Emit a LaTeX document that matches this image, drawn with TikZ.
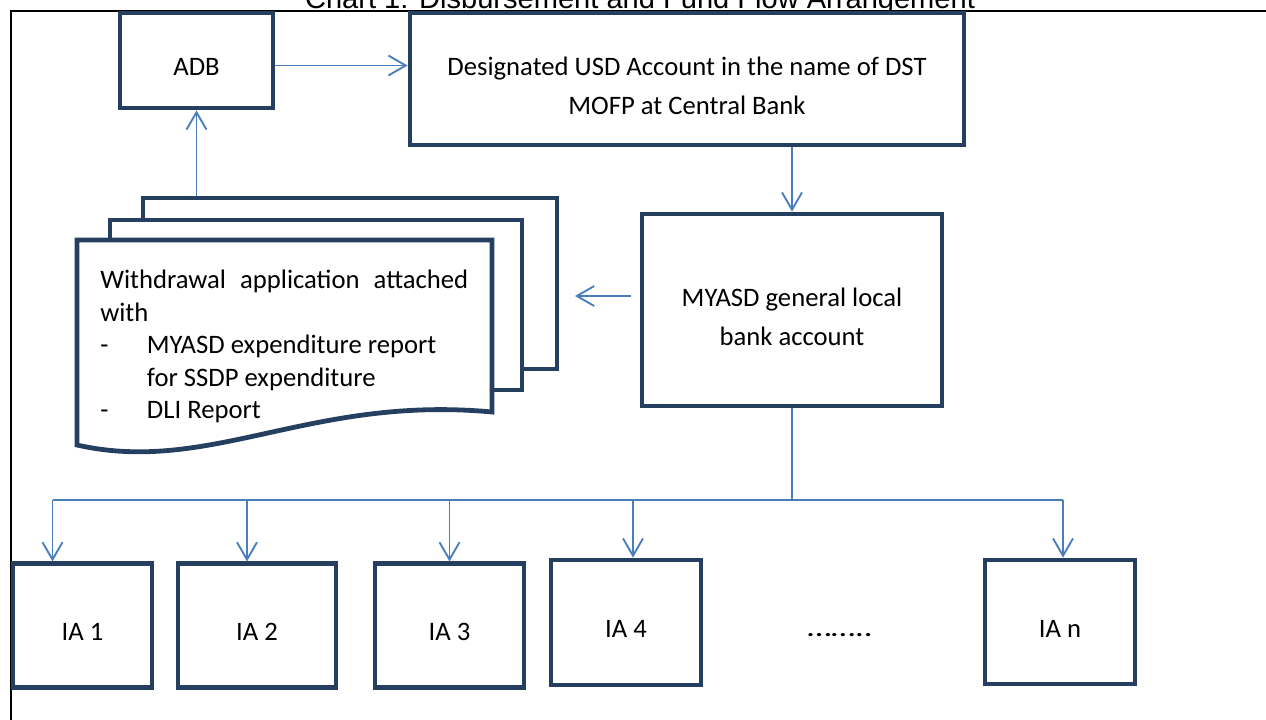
\documentclass[tikz,border=0pt]{standalone}
\usepackage{fontspec}
\setmainfont{Carlito}
\newfontfamily\titlefont{Liberation Sans}
\usetikzlibrary{arrows.meta, positioning, calc}
\definecolor{boxblue}{RGB}{36, 63, 96}
\definecolor{flowblue}{RGB}{74, 126, 187}
\tikzset{
    acctbox/.style={rectangle, draw=boxblue, line width=3.6pt, fill=white, inner sep=0pt},
    boxtext/.style={align=center, inner sep=0pt, yshift=-5pt, font=\fontsize{20}{29}\selectfont},
    iabox/.style={acctbox, minimum height=92.5pt},
    pagebox/.style={rectangle, draw=boxblue, line width=3.6pt, fill=white, inner sep=0pt},
    flow/.style={-{Straight Barb[length=13pt, width=15pt]}, line width=1.4pt, flowblue},
    busline/.style={line width=1.4pt, flowblue},
}

\begin{document}
\begin{tikzpicture}[x=0.75pt, y=-0.75pt]
    \useasboundingbox (0,0) rectangle (1266,719);
    \node[anchor=base, font=\titlefont\fontsize{21.8}{26}\selectfont] (title) at (640,8) {Chart 1: Disbursement and Fund Flow Arrangement};
    \draw[line width=1.5pt] (11,730) -- (11,11) -- (1280,11);

    \node[acctbox, minimum width=114.75pt, minimum height=71.25pt, label={[boxtext]center:ADB}] (adb) at (196.5,60.5) {};
    \node[acctbox, minimum width=415.5pt, minimum height=99pt,
          label={[boxtext]center:Designated USD Account in the name of DST\\MOFP at Central Bank}] (dusd) at (687,79) {};
    \node[acctbox, minimum width=225pt, minimum height=144pt,
          label={[boxtext]center:MYASD general local\\bank account}] (myasd) at (792,310) {};

    \node[pagebox, minimum width=310.5pt, minimum height=128.25pt] (page3) at (350,283.5) {};
    \node[pagebox, minimum width=309pt, minimum height=127.5pt] (page2) at (316,305) {};
    \draw[boxblue, line width=3.6pt, fill=white] (77,240) -- (492,240) -- (492,412)
        .. controls (310,395) and (210,475) .. (77,445) -- cycle;
    \node[anchor=north west, text width=276pt, align=justify, inner sep=0pt,
          font=\fontsize{20}{24.4}\selectfont] (wdraw) at (100,270)
        {Withdrawal application attached with\par
         \makebox[35pt][l]{-}MYASD expenditure report\\
         \hspace*{35pt}for SSDP expenditure\\
         \makebox[35pt][l]{-}DLI Report};

    \node[iabox, minimum width=104.25pt, label={[boxtext]center:IA 1}] (ia1) at (82.5,625.5) {};
    \node[iabox, minimum width=118.5pt, label={[boxtext]center:IA 2}] (ia2) at (257,625.5) {};
    \node[iabox, minimum width=111.75pt, label={[boxtext]center:IA 3}] (ia3) at (449.5,625.5) {};
    \node[iabox, minimum width=112.5pt, minimum height=93.75pt, label={[boxtext]center:IA 4}] (ia4) at (626,622.5) {};
    \node[font=\fontsize{20}{24}\selectfont] (dots) at (840,635) {\scalebox{1.3}[1]{……..}};
    \node[iabox, minimum width=112.5pt, minimum height=93pt, label={[boxtext]center:IA n}] (ian) at (1060,622) {};

    \coordinate (wa) at (575,296);
    \draw[flow] ($(adb.east)+(0,5)$) -- ($(adb.east -| dusd.west)+(0,5)$);
    \draw[flow] (myasd.north |- dusd.south) -- (myasd.north);
    \draw[flow] ($(wa -| myasd.west)+(-9,0)$) -- (wa);
    \draw[flow] (adb.south |- page3.north) -- (adb.south);

    \draw[busline] (myasd.south) -- (myasd.south |- 0,500) coordinate (split);
    \foreach \ia/\dx in {ia1/-22.5, ia2/-7.5, ia3/0, ia4/5.25, ian/2.25} {
        \path ([xshift=\dx pt]\ia.north) coordinate (tip);
        \draw[flow] (tip |- split) -- (tip);
    }
    \draw[busline] ([xshift=-22.5pt]ia1.north |- split) -- (split);
    \draw[busline] (split) -- ([xshift=2.25pt]ian.north |- split);
\end{tikzpicture}
\end{document}
